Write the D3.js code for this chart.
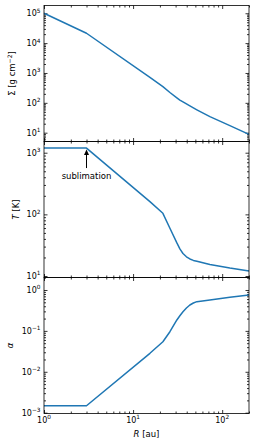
<!DOCTYPE html>
<html>
<head>
<meta charset="UTF-8">
<script src="https://d3js.org/d3.v7.min.js"></script>
<style>
  body { margin: 0; background: #fff; }
  svg { display: block; }
  text { font-family: 'DejaVu Sans', sans-serif; fill: #000; }
  .domain { display: none; }
  .tick line { stroke: #000; stroke-width: 0.8; }
</style>
</head>
<body>
<svg id="chart" width="256" height="446"></svg>
<script>
// radius grid [au] and the three profiles
var radius = [1, 3, 15.45, 21.6, 25.9, 31.0, 33.5, 36.3, 39.7, 43.4, 47.5, 52.0, 72.8, 122, 200];
var sigma = [1e5, 21400, 718, 347, 222, 147, 124, 108, 92, 79, 67.8, 58.5, 34.4, 17.2, 8.8];
var temp = [1190, 1190, 161, 104, 59.6, 34.4, 27.5, 23.2, 20.5, 18.9, 17.9, 17.3, 15.4, 13.5, 12.1];
var alpha = [1.48e-3, 1.48e-3, 0.0283, 0.0544, 0.0955, 0.185, 0.234, 0.294, 0.363, 0.430, 0.481, 0.518, 0.572, 0.66, 0.755];

// tick exponents
var xExp = [0, 1, 2];
var sigmaExp = [1, 2, 3, 4, 5];
var tempExp = [1, 2, 3];
var alphaExp = [-3, -2, -1, 0];

var annotR = 3, annotT = 1190, annotLabel = "sublimation";

var left = 44, right = 249;
var svg = d3.select("#chart");

var x = d3.scaleLog().domain([1, 200]).range([left, right]);

var panels = [
  { top: 5.5, bottom: 141.5, domain: [5.07, 1.82e5], values: sigma, exps: sigmaExp, labelX: 15 },
  { top: 141.5, bottom: 277.5, domain: [9.46, 1520], values: temp, exps: tempExp, labelX: 19 },
  { top: 277.5, bottom: 413.5, domain: [9.55e-4, 2.02], values: alpha, exps: alphaExp, labelX: 13 }
];

function minors(lo, hi) {
  var out = [];
  for (var e = Math.floor(Math.log10(lo)); e <= Math.ceil(Math.log10(hi)); e++) {
    for (var m = 2; m <= 9; m++) {
      var v = m * Math.pow(10, e);
      if (v >= lo && v <= hi) out.push(v);
    }
  }
  return out;
}

function pow10(e) { return Math.pow(10, e); }

function supLabel(sel, e, anchor) {
  sel.attr("text-anchor", anchor).style("font-size", "8px");
  sel.append("tspan").text("10");
  sel.append("tspan").attr("dy", -3.6).style("font-size", "5.8px")
    .text(e < 0 ? "\u2212" + (-e) : e);
}

panels.forEach(function (p, i) {
  var y = d3.scaleLog().domain(p.domain).range([p.bottom, p.top]);
  p.y = y;
  var g = svg.append("g");

  // y ticks left + right
  var yMaj = p.exps.map(pow10);
  var yMin = minors(p.domain[0], p.domain[1]);
  g.append("g").attr("transform", "translate(" + left + ",0)")
    .call(d3.axisLeft(y).tickValues(yMaj).tickSizeInner(-3.5).tickFormat(""));
  g.append("g").attr("transform", "translate(" + left + ",0)")
    .call(d3.axisLeft(y).tickValues(yMin).tickSizeInner(-2).tickFormat(""));
  g.append("g").attr("transform", "translate(" + right + ",0)")
    .call(d3.axisRight(y).tickValues(yMaj).tickSizeInner(-3.5).tickFormat(""));
  g.append("g").attr("transform", "translate(" + right + ",0)")
    .call(d3.axisRight(y).tickValues(yMin).tickSizeInner(-2).tickFormat(""));

  // x ticks top + bottom
  var xMaj = xExp.map(pow10);
  var xMin = minors(1, 200);
  g.append("g").attr("transform", "translate(0," + p.bottom + ")")
    .call(d3.axisBottom(x).tickValues(xMaj).tickSizeInner(-3.5).tickFormat(""));
  g.append("g").attr("transform", "translate(0," + p.bottom + ")")
    .call(d3.axisBottom(x).tickValues(xMin).tickSizeInner(-2).tickFormat(""));
  g.append("g").attr("transform", "translate(0," + p.top + ")")
    .call(d3.axisTop(x).tickValues(xMaj).tickSizeInner(-3.5).tickFormat(""));
  g.append("g").attr("transform", "translate(0," + p.top + ")")
    .call(d3.axisTop(x).tickValues(xMin).tickSizeInner(-2).tickFormat(""));

  // y tick labels
  p.exps.forEach(function (e) {
    var t = g.append("text").attr("x", left - 3.5).attr("y", y(pow10(e)) + 3);
    supLabel(t, e, "end");
  });

  // curve
  var line = d3.line()
    .x(function (d, k) { return x(radius[k]); })
    .y(function (d) { return y(d); });
  g.append("path").datum(p.values)
    .attr("d", line)
    .attr("fill", "none")
    .attr("stroke", "#1f77b4")
    .attr("stroke-width", 1.5)
    .attr("stroke-linejoin", "round");

  // frame
  g.append("rect")
    .attr("x", left).attr("y", p.top)
    .attr("width", right - left).attr("height", p.bottom - p.top)
    .attr("fill", "none").attr("stroke", "#000").attr("stroke-width", 0.8);
});

// y axis labels
var ymid = function (p) { return (p.top + p.bottom) / 2; };
var l1 = svg.append("text").attr("transform", "translate(" + panels[0].labelX + "," + ymid(panels[0]) + ") rotate(-90)")
  .attr("text-anchor", "middle").style("font-size", "8.5px");
l1.append("tspan").text("\u03a3 [g cm");
l1.append("tspan").attr("dy", -3.5).style("font-size", "6px").text("\u22122");
l1.append("tspan").attr("dy", 3.5).text("]");

var l2 = svg.append("text").attr("transform", "translate(" + panels[1].labelX + "," + ymid(panels[1]) + ") rotate(-90)")
  .attr("text-anchor", "middle").style("font-size", "8.5px");
l2.append("tspan").style("font-style", "italic").text("T");
l2.append("tspan").text(" [K]");

svg.append("text").attr("transform", "translate(" + panels[2].labelX + "," + ymid(panels[2]) + ") rotate(-90)")
  .attr("text-anchor", "middle").style("font-size", "8.5px").style("font-style", "italic").text("\u03b1");

// x tick labels
xExp.forEach(function (e) {
  var t = svg.append("text").attr("x", x(pow10(e))).attr("y", 423);
  supLabel(t, e, "middle");
});

// x label
var xl = svg.append("text").attr("x", (left + right) / 2).attr("y", 436.5)
  .attr("text-anchor", "middle").style("font-size", "8.5px");
xl.append("tspan").style("font-style", "italic").text("R");
xl.append("tspan").text(" [au]");

// annotation
var ax = x(annotR), ay = panels[1].y(annotT);
svg.append("line").attr("x1", ax).attr("x2", ax)
  .attr("y1", ay + 20).attr("y2", ay + 6)
  .attr("stroke", "#000").attr("stroke-width", 1);
svg.append("path")
  .attr("d", "M" + ax + "," + (ay + 1.5) + "L" + (ax - 2.5) + "," + (ay + 7) + "L" + (ax + 2.5) + "," + (ay + 7) + "Z")
  .attr("fill", "#000");
svg.append("text").attr("x", ax).attr("y", ay + 30.5)
  .attr("text-anchor", "middle").style("font-size", "8.5px").text(annotLabel);
</script>
</body>
</html>
